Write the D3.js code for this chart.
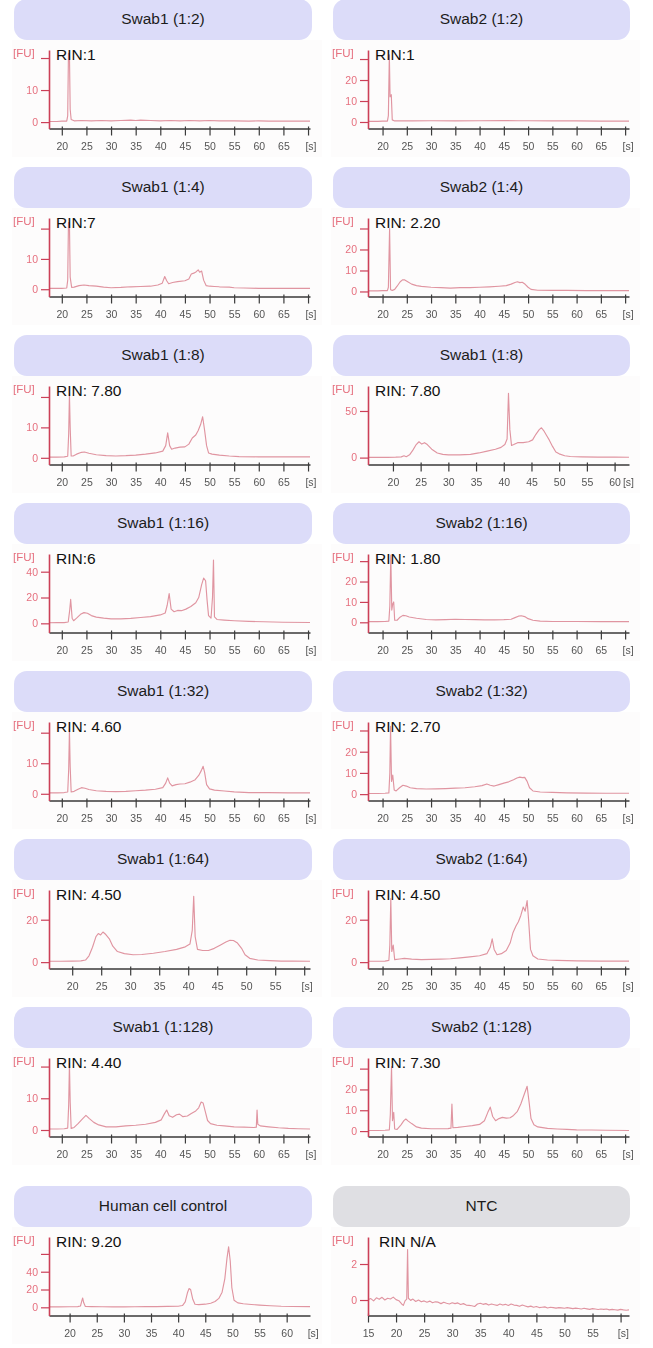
<!DOCTYPE html>
<html>
<head>
<meta charset="utf-8">
<script src="https://cdn.jsdelivr.net/npm/d3@7"></script>
<style>
  body { margin: 0; background: #fff; }
  svg { display: block; }
</style>
</head>
<body>
<svg id="fig" width="653" height="1348"></svg>
<script>
// ---- Panel labels -------------------------------------------------------
const panelTitles = [
  "Swab1 (1:2)", "Swab2 (1:2)",
  "Swab1 (1:4)", "Swab2 (1:4)",
  "Swab1 (1:8)", "Swab1 (1:8)",
  "Swab1 (1:16)", "Swab2 (1:16)",
  "Swab1 (1:32)", "Swab2 (1:32)",
  "Swab1 (1:64)", "Swab2 (1:64)",
  "Swab1 (1:128)", "Swab2 (1:128)",
  "Human cell control", "NTC"
];
const rinLabels = [
  "RIN:1", "RIN:1",
  "RIN:7", "RIN: 2.20",
  "RIN: 7.80", "RIN: 7.80",
  "RIN:6", "RIN: 1.80",
  "RIN: 4.60", "RIN: 2.70",
  "RIN: 4.50", "RIN: 4.50",
  "RIN: 4.40", "RIN: 7.30",
  "RIN: 9.20", "RIN N/A"
];
const isControlBlank = [false,false,false,false,false,false,false,false,false,false,false,false,false,false,false,true];

// ---- Axes: fluorescence [FU] and migration time [s] ---------------------
const yDomains = [
  [-2.0, 22.5], [-3.1, 34.3],
  [-2.4, 23.5], [-2.4, 35.0],
  [-2.2, 23.6], [-7.4, 76.8],
  [-7.1, 53.7], [-5.0, 33.5],
  [-2.2, 23.5], [-3.0, 34.0],
  [-3.0, 34.0], [-3.0, 34.0],
  [-2.05, 22.7], [-2.6, 35.1],
  [-9.2, 79.0], [-0.86, 3.5]
];
const yTickValues = [
  [0,10,20], [0,10,20,30],
  [0,10,20], [0,10,20,30],
  [0,10,20], [0,50],
  [0,20,40], [0,10,20,30],
  [0,10,20], [0,10,20,30],
  [0,20], [0,20],
  [0,10,20], [0,10,20,30],
  [0,20,40,60], [0,2]
];
const yTickLabels = [
  ["0","10",""], ["0","10","20",""],
  ["0","10",""], ["0","10","20",""],
  ["0","10",""], ["0","50"],
  ["0","20","40"], ["0","10","20",""],
  ["0","10",""], ["0","10","20",""],
  ["0","20"], ["0","20"],
  ["0","10",""], ["0","10","20",""],
  ["0","20","40",""], ["0","2"]
];
const xDomains = [
  [17.4, 70.4], [17.0, 70.8],
  [17.4, 70.4], [17.0, 70.8],
  [17.4, 70.4], [15.5, 62.6],
  [17.4, 70.4], [17.0, 70.8],
  [17.4, 70.4], [17.0, 70.8],
  [16.0, 61.0], [17.0, 70.8],
  [17.4, 70.4], [17.0, 70.8],
  [16.2, 64.3], [15.0, 61.5]
];
const stdTicks = [20,25,30,35,40,45,50,55,60,65,70];
const stdLabels = ["20","25","30","35","40","45","50","55","60","65",""];
const shortTicks = [20,25,30,35,40,45,50,55,60];
const shortLabels = ["20","25","30","35","40","45","50","55","60"];
const shortUnitLabels = ["20","25","30","35","40","45","50","55",""];
const ntcTicks = [15,20,25,30,35,40,45,50,55,60];
const ntcLabels = ["15","20","25","30","35","40","45","50","55",""];
const xTickValues = [
  stdTicks, stdTicks, stdTicks, stdTicks, stdTicks, shortTicks,
  stdTicks, stdTicks, stdTicks, stdTicks, shortTicks, stdTicks,
  stdTicks, stdTicks, shortTicks, ntcTicks
];
const xTickLabels = [
  stdLabels, stdLabels, stdLabels, stdLabels, stdLabels, shortLabels,
  stdLabels, stdLabels, stdLabels, stdLabels, shortUnitLabels, stdLabels,
  stdLabels, stdLabels, shortLabels, ntcLabels
];
// time at which the "[s]" unit label sits
const xUnitAt = [
  70.6, 70.6, 70.6, 70.6, 70.6, 62.5,
  70.6, 70.6, 70.6, 70.6, 60.5, 70.6,
  70.6, 70.6, 64.9, 60.5
];

// ---- Electropherogram traces: [time (s), fluorescence (FU)] -------------
const swab1Dil2 = [[17,0.2],[19,0.2],[20,0.3],[21,0.3],[21.2,2],[21.35,21.5],[21.55,21.5],[21.7,4],[21.9,0.8],[22.5,0.4],[24,0.5],[26,0.4],[28,0.5],[30,0.4],[32,0.5],[34,0.6],[35,0.5],[36,0.6],[38,0.5],[40,0.4],[42,0.5],[44,0.4],[46,0.5],[48,0.4],[50,0.5],[52,0.4],[55,0.4],[58,0.3],[60,0.4],[62,0.3],[65,0.3],[68,0.3],[71,0.3]];
const swab2Dil2 = [[17,0.3],[19,0.3],[20,0.4],[21,0.4],[21.2,3],[21.4,32],[21.55,12],[21.8,13],[22,1],[22.5,0.5],[24,0.6],[26,0.5],[30,0.6],[35,0.5],[40,0.6],[45,0.7],[48,0.6],[50,0.6],[55,0.5],[60,0.5],[65,0.4],[71,0.4]];
const swab1Dil4 = [[17,0.3],[19,0.3],[20,0.3],[21,0.4],[21.2,3],[21.35,22],[21.55,22],[21.7,4],[22,0.6],[22.5,0.7],[23.5,1.2],[24.5,1.4],[25.5,1.2],[27,1],[28.5,0.7],[30,0.5],[32,0.6],[34,0.8],[36,0.9],[38,1],[39.5,1.4],[40.4,2],[40.9,4.2],[41.3,2.8],[41.7,1.8],[42.5,2.2],[43.5,2.5],[45,2.8],[45.8,3.4],[46.3,5],[46.8,5.3],[47.3,5.8],[47.7,6.4],[48,5.6],[48.4,6],[48.8,3],[49.3,1.2],[50,1],[51,0.9],[52,0.8],[54,0.7],[55,0.5],[57,0.4],[60,0.3],[63,0.3],[66,0.3],[71,0.3]];
const swab2Dil4 = [[17,0.3],[19,0.3],[20,0.4],[21,0.4],[21.2,2],[21.45,30],[21.65,0.8],[22,0.5],[22.5,1],[23,2.5],[23.6,4.5],[24.1,5.5],[24.5,5.6],[25.1,4.8],[26,3.5],[27,2.8],[28,2.4],[30,2],[32,1.8],[34,1.6],[36,1.8],[38,1.8],[40,2],[42,2.2],[44,2.5],[45.5,2.8],[46.5,3.5],[47.3,4.3],[47.8,4.6],[48.3,4.2],[48.8,4.4],[49.4,3.4],[50,2],[50.6,1],[52,0.6],[55,0.5],[58,0.5],[62,0.4],[66,0.4],[71,0.4]];
const swab1Dil8 = [[17,0.2],[19,0.2],[20.5,0.3],[21.2,0.5],[21.4,8],[21.55,21],[21.7,10],[21.9,0.6],[22.3,0.6],[23,1.2],[24,1.8],[24.6,1.9],[25.5,1.5],[27,1],[29,0.7],[31,0.6],[33,0.7],[35,0.9],[37,1.2],[39,1.6],[40.5,2.2],[41.1,4],[41.5,8.2],[41.9,4],[42.3,2.8],[43,3.2],[44,3.5],[45,3.6],[45.8,4.5],[46.5,6.5],[47.2,7.5],[47.7,9],[48.2,11],[48.6,13.5],[49,9],[49.4,4],[49.8,1.6],[50.5,1.2],[52,0.9],[54,0.6],[56,0.4],[60,0.3],[65,0.3],[71,0.3]];
const swab1Dil8b = [[15.5,0.2],[17,0.2],[19,0.3],[20.5,0.5],[21.5,0.8],[22,2],[22.4,1],[23,3],[23.6,8],[24.2,14],[24.7,17],[25.2,14.5],[25.7,16],[26.2,14],[27,9],[28,5],[29,3.5],[30,3],[32,3],[34,3.5],[35.5,5],[37,7],[38.5,9],[39.5,11],[40.2,14],[40.6,20],[40.85,69],[41.1,30],[41.4,13],[41.8,14],[42.5,16],[43.5,16],[44.5,17],[45.2,19],[45.8,25],[46.4,30],[46.8,32],[47.2,29],[47.7,24],[48.2,19],[48.8,12],[49.4,6],[50,4],[51,2],[52,1.2],[54,0.8],[57,0.5],[60,0.5],[62.6,0.4]];
const swab1Dil16 = [[17,0.4],[19,0.5],[20.5,0.6],[21.3,1],[21.6,10],[21.8,18.5],[22.1,4],[22.4,2],[23,4],[23.8,7],[24.5,8.3],[25.2,7.8],[26,6],[27,4.8],[28.5,4],[30,3.5],[32,3.5],[34,3.8],[36,4.5],[38,5.2],[40,6.5],[41,8],[41.4,14],[41.8,23],[42.2,11],[42.8,9],[43.5,10],[44.3,9.8],[45.2,11],[46.2,13],[47.2,16],[47.8,20],[48.4,30],[48.8,35],[49.2,33],[49.5,18],[49.8,6],[50.3,4],[50.6,20],[50.8,49],[51,5],[51.5,3],[53,2.5],[55,2],[58,1.5],[61,1.2],[65,0.8],[71,0.6]];
const swab2Dil16 = [[17,0.3],[19,0.3],[20.5,0.4],[21.3,0.6],[21.5,8],[21.7,33],[21.9,6],[22.1,9],[22.3,10],[22.5,1],[23,1],[23.6,2.5],[24.2,3.4],[24.8,3.2],[25.5,2.6],[27,2],[29,1.4],[31,1.2],[33,1.3],[35,1.5],[37,1.4],[39,1.3],[41,1.2],[43,1.2],[45,1.3],[46.5,1.5],[47.3,2.3],[48,3],[48.6,3.2],[49.3,2.8],[50,1.8],[51,1],[52.5,0.6],[55,0.4],[60,0.4],[65,0.3],[71,0.3]];
const swab1Dil32 = [[17,0.3],[19,0.3],[20.5,0.4],[21.2,0.6],[21.4,8],[21.55,21],[21.7,9],[21.9,0.6],[22.5,0.8],[23.3,1.5],[24,2],[24.7,1.8],[25.5,1.4],[27,1],[29,0.8],[31,0.7],[33,0.8],[35,1],[37,1.2],[39,1.5],[40.5,2],[41.1,3.5],[41.5,5.2],[41.9,3.5],[42.4,2.6],[43.2,3],[44,3.2],[45,3.3],[46,3.8],[47,4.5],[47.8,6],[48.3,7.5],[48.7,9],[49,7],[49.4,3],[50,1.6],[51,1.2],[53,0.9],[55,0.6],[58,0.4],[62,0.4],[66,0.3],[71,0.3]];
const swab2Dil32 = [[17,0.3],[19,0.3],[20.5,0.4],[21.3,0.6],[21.5,10],[21.65,32],[21.85,6],[22.1,9],[22.4,2],[22.8,1.5],[23.5,3],[24.2,4.2],[24.9,3.8],[25.7,3],[27,2.6],[29,2.4],[31,2.5],[33,2.6],[35,2.8],[37,3],[39,3.5],[40.5,4],[41.5,4.8],[42.2,4.2],[43,3.8],[44,4.5],[45,5.2],[46,5.8],[47,6.8],[47.7,7.6],[48.3,8],[48.8,7.8],[49.3,7.9],[49.8,6],[50.3,3],[51,1.5],[52.5,1],[55,0.8],[58,0.6],[62,0.5],[66,0.4],[71,0.4]];
const swab1Dil64 = [[16,0.4],[18,0.4],[20,0.5],[21.5,0.6],[22.3,1],[22.9,3],[23.5,7],[24.1,12],[24.5,13.5],[24.9,12.8],[25.3,14.2],[25.8,13],[26.4,11],[27,7.5],[27.8,5],[29,4],[30.5,3.5],[32,3.6],[34,4.2],[36,5],[38,6],[39.5,7.2],[40.3,8.5],[40.7,15],[40.95,31],[41.2,12],[41.6,6],[42.5,5.5],[43.5,5.5],[44.5,6.5],[45.5,8],[46.5,9.5],[47.2,10.3],[47.8,10.2],[48.5,9],[49.2,6.5],[49.8,3.5],[50.6,1.8],[52,1],[54,0.7],[56,0.5],[58,0.5],[61,0.4]];
const swab2Dil64 = [[17,0.4],[19,0.4],[20.5,0.5],[21.3,0.8],[21.5,8],[21.7,30],[21.9,5],[22.2,8],[22.5,1.2],[23.5,1.5],[24.5,1.8],[26,1.4],[28,1.2],[30,1.3],[32,1.4],[34,1.6],[36,2],[38,2.5],[40,3],[41.5,4],[42.2,7],[42.6,11],[43,6],[43.6,3.5],[44.5,4],[45.5,5.5],[46.3,9],[46.9,14],[47.5,17],[48,19],[48.5,22],[49,26],[49.4,24],[49.8,29],[50.1,20],[50.5,6],[51,3],[52,1.5],[54,1],[56,0.8],[60,0.6],[65,0.5],[71,0.5]];
const swab1Dil128 = [[17,0.3],[19,0.3],[20.5,0.4],[21.2,0.6],[21.4,8],[21.55,21],[21.7,9],[21.9,0.5],[22.5,0.8],[23.3,2],[24.2,3.5],[24.9,4.6],[25.6,3.6],[26.5,2.4],[27.5,1.6],[29,1],[31,1],[33,1.3],[35,1.5],[37,1.8],[39,2.4],[40.2,3.2],[40.8,5],[41.3,6.3],[41.8,4.5],[42.5,4],[43.3,4.8],[43.9,5],[44.6,4.2],[45.5,4.4],[46.3,5.2],[47.2,6],[47.8,7],[48.3,8.8],[48.7,8.5],[49.1,6],[49.6,3],[50.2,2],[51.5,1.5],[53,1.3],[55,1],[57,0.9],[59,0.8],[59.5,0.9],[59.65,6.3],[59.8,1.8],[60.3,1.3],[62,1],[64,0.7],[66,0.5],[68,0.4],[71,0.3]];
const swab2Dil128 = [[17,0.3],[19,0.3],[20.5,0.4],[21.4,0.6],[21.6,8],[21.85,31],[22.05,5],[22.3,9],[22.5,1],[23,0.8],[23.8,3],[24.4,5],[24.8,5.8],[25.3,4.8],[26,3.6],[27,2],[28,1.4],[30,1.1],[32,1.1],[33.5,1.2],[34.1,1.4],[34.3,13],[34.5,1.6],[35.5,1.8],[37,2.2],[38.5,2.6],[40,3.2],[41,5],[41.7,9],[42.2,11.5],[42.7,7],[43.3,5],[44,6],[44.7,6.6],[45.5,6.2],[46.3,6.4],[47,7.5],[47.8,9.5],[48.5,13],[49.1,17],[49.8,21.5],[50.2,14],[50.6,6],[51.2,3],[52,2],[54,1.3],[56,1],[58,0.8],[60,0.6],[63,0.5],[66,0.4],[71,0.3]];
const humanControl = [[16.2,0.5],[18,0.5],[20,0.6],[21.5,0.8],[22,1.5],[22.2,6],[22.4,10.5],[22.6,5],[22.9,1],[24,0.8],[26,0.6],[28,0.5],[30,0.5],[32,0.6],[34,0.7],[36,0.8],[38,1],[40,1.2],[40.8,2],[41.3,6],[41.7,16],[42,21],[42.3,20],[42.7,9],[43.1,3.5],[43.8,3],[45,3.5],[46,4.5],[46.8,6.5],[47.5,10],[48.1,17],[48.6,32],[49,55],[49.3,68],[49.6,52],[49.9,22],[50.3,8],[51,5],[52,4],[53.5,3.2],[55,2.5],[57,1.8],[59,1.2],[61,0.9],[64.3,0.7]];
const ntcBlank = [[15,0.02],[15.5,0.08],[16,-0.05],[16.5,0.12],[17,0.04],[17.5,0.15],[18,0.0],[18.5,0.1],[19,0.06],[19.5,0.16],[20,0.02],[20.5,-0.04],[21,-0.22],[21.3,-0.3],[21.6,-0.05],[21.9,0.05],[22.05,2.8],[22.2,0.1],[22.6,-0.02],[23,0.05],[23.5,-0.08],[24,0.0],[24.5,-0.1],[25,-0.05],[25.5,-0.12],[26,-0.06],[26.5,-0.15],[27,-0.1],[27.5,-0.12],[28,-0.2],[28.5,-0.12],[29,-0.18],[29.5,-0.22],[30,-0.15],[30.5,-0.2],[31,-0.16],[31.5,-0.25],[32,-0.2],[32.5,-0.28],[33,-0.3],[33.5,-0.32],[34,-0.36],[34.5,-0.22],[35,-0.18],[35.5,-0.24],[36,-0.2],[36.5,-0.28],[37,-0.22],[37.5,-0.26],[38,-0.3],[38.5,-0.22],[39,-0.28],[39.5,-0.24],[40,-0.3],[40.5,-0.22],[41,-0.28],[41.5,-0.3],[42,-0.35],[42.5,-0.28],[43,-0.33],[43.5,-0.38],[44,-0.34],[44.5,-0.4],[45,-0.36],[45.5,-0.42],[46,-0.4],[46.5,-0.38],[47,-0.44],[47.5,-0.4],[48,-0.42],[48.5,-0.45],[49,-0.42],[49.5,-0.44],[50,-0.46],[50.5,-0.42],[51,-0.45],[51.5,-0.48],[52,-0.45],[52.5,-0.47],[53,-0.5],[53.5,-0.46],[54,-0.49],[54.5,-0.52],[55,-0.48],[55.5,-0.5],[56,-0.53],[56.5,-0.5],[57,-0.52],[57.5,-0.5],[58,-0.55],[58.5,-0.52],[59,-0.54],[59.5,-0.56],[60,-0.52],[60.5,-0.55],[61,-0.57],[61.5,-0.55]];

const traces = [
  swab1Dil2, swab2Dil2, swab1Dil4, swab2Dil4, swab1Dil8, swab1Dil8b,
  swab1Dil16, swab2Dil16, swab1Dil32, swab2Dil32, swab1Dil64, swab2Dil64,
  swab1Dil128, swab2Dil128, humanControl, ntcBlank
];

// ---- Layout -------------------------------------------------------------
const svg = d3.select("#fig");
const defs = svg.append("defs");
defs.append("filter").attr("id", "soft")
  .attr("x", "-5%").attr("y", "-5%").attr("width", "110%").attr("height", "110%")
  .append("feGaussianBlur").attr("stdDeviation", 0.35);

const pillCols = [{ x: 14, w: 298 }, { x: 333, w: 297 }];
const axisCols = [[49, 310], [368, 629]];
const rowTop = r => (r < 7 ? -1 + 168 * r : 1186);

const SANS = "'Liberation Sans', Arial, Helvetica, sans-serif";
const RED_AXIS = "#cc4058";
const RED_TEXT = "#e6707f";
const TRACE = "#e095a1";
const X_AXIS_Y = 129.5;            // offset of the time axis below the pill top
const LABEL_DROP = 7 + 7 + 0.71 * 11; // tick + padding + baseline shift

panelTitles.forEach((title, i) => {
  const col = i % 2;
  const top = rowTop(Math.floor(i / 2));
  const pill = pillCols[col];
  const [ax0, ax1] = axisCols[col];
  const g = svg.append("g").attr("class", "panel");

  // header pill
  g.append("rect")
    .attr("x", pill.x).attr("y", top)
    .attr("width", pill.w).attr("height", 41).attr("rx", 13)
    .attr("fill", isControlBlank[i] ? "#dfdfe3" : "#dcdcf9");
  g.append("text")
    .attr("x", pill.x + pill.w / 2).attr("y", top + 24.5)
    .attr("text-anchor", "middle")
    .style("font-family", SANS).style("font-size", "15.5px").attr("fill", "#1c1c1c")
    .text(title);

  // electropherogram backdrop
  g.append("rect")
    .attr("x", pill.x - 2).attr("y", top + 41)
    .attr("width", pill.w + 12).attr("height", 117)
    .attr("fill", "#fdfcfc");

  const x = d3.scaleLinear().domain(xDomains[i]).range([ax0, ax1]);
  const y = d3.scaleLinear().domain(yDomains[i]).range([top + X_AXIS_Y, top + 51]);

  const chart = g.append("g").attr("filter", "url(#soft)");

  // trace, clipped to the plotting window
  const clipId = "clip" + i;
  defs.append("clipPath").attr("id", clipId)
    .append("rect").attr("x", ax0).attr("y", top + 41)
    .attr("width", ax1 - ax0).attr("height", X_AXIS_Y - 41);
  chart.append("path")
    .datum(traces[i])
    .attr("clip-path", `url(#${clipId})`)
    .attr("d", d3.line().x(d => x(d[0])).y(d => y(d[1])))
    .attr("fill", "none").attr("stroke", TRACE)
    .attr("stroke-width", 1.15).attr("stroke-linejoin", "round");

  // time axis
  const xAxis = d3.axisBottom(x)
    .tickValues(xTickValues[i])
    .tickFormat((d, k) => xTickLabels[i][k])
    .tickSize(7).tickSizeOuter(0).tickPadding(7);
  const xg = chart.append("g")
    .attr("transform", `translate(0,${top + X_AXIS_Y})`)
    .call(xAxis);
  xg.select(".domain").attr("stroke", "#3b3b3b").attr("stroke-width", 1.6);
  xg.selectAll(".tick line").attr("stroke", "#3b3b3b").attr("stroke-width", 1.2).attr("y1", -2);
  xg.selectAll(".tick text")
    .style("font-family", SANS).style("font-size", "10.5px").attr("fill", "#555");
  chart.append("text")
    .attr("x", x(xUnitAt[i])).attr("y", top + X_AXIS_Y + LABEL_DROP)
    .attr("text-anchor", "middle")
    .style("font-family", SANS).style("font-size", "10.5px").attr("fill", "#555")
    .text("[s]");

  // fluorescence axis
  const yAxis = d3.axisLeft(y)
    .tickValues(yTickValues[i])
    .tickFormat((d, k) => yTickLabels[i][k])
    .tickSize(8).tickSizeOuter(0).tickPadding(3);
  const yg = chart.append("g")
    .attr("transform", `translate(${ax0},0)`)
    .call(yAxis);
  yg.select(".domain").attr("stroke", RED_AXIS).attr("stroke-width", 1.6);
  yg.selectAll(".tick line").attr("stroke", RED_AXIS).attr("stroke-width", 1.2);
  yg.selectAll(".tick text")
    .style("font-family", SANS).style("font-size", "10.5px").attr("fill", RED_TEXT);
  chart.append("text")
    .attr("x", ax0 - 36).attr("y", top + 57.5)
    .style("font-family", SANS).style("font-size", "11.5px").attr("fill", RED_TEXT)
    .text("[FU]");

  // RIN annotation
  g.append("text")
    .attr("x", ax0 + (isControlBlank[i] ? 11 : 7)).attr("y", top + 60.5)
    .style("font-family", SANS).style("font-size", "15.5px").attr("fill", "#111")
    .text(rinLabels[i]);
});
</script>
</body>
</html>
